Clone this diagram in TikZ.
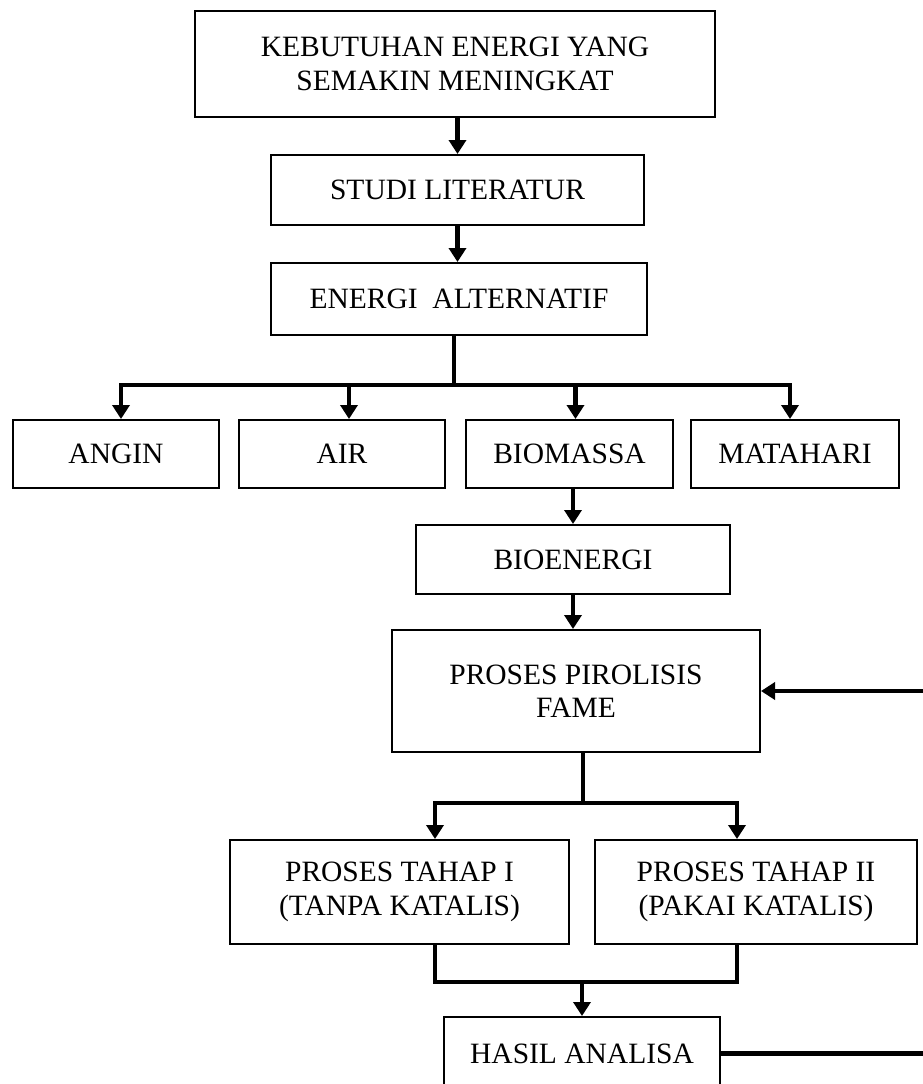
\documentclass[tikz,border=0pt]{standalone}
\usepackage{fontspec}
\setmainfont{Liberation Serif}
\usetikzlibrary{arrows.meta,calc}
\begin{document}
\begin{tikzpicture}[x=1pt,y=-1pt,
  box/.style={draw,line width=2pt,rectangle,inner sep=0pt,align=center,
    font=\fontsize{29.5}{33.5}\selectfont},
  conn/.style={line width=4.5pt},
  arr/.style={conn,-{Triangle[width=17pt,length=14pt]}}]
\useasboundingbox (0,0) rectangle (922,1084);
% boxes
\node[box,minimum width=520pt,minimum height=106pt] (top) at (455,64) {KEBUTUHAN ENERGI YANG\\SEMAKIN MENINGKAT};
\node[box,minimum width=373pt,minimum height=70pt] (studi) at (457.5,190) {STUDI LITERATUR};
\node[box,minimum width=376pt,minimum height=72pt] (energi) at (459,299) {ENERGI\ \ ALTERNATIF};
\node[box,minimum width=206pt,minimum height=68pt] (angin) at (116,454) {ANGIN};
\node[box,minimum width=206pt,minimum height=68pt] (air) at (342,454) {AIR};
\node[box,minimum width=207pt,minimum height=68pt] (biomassa) at (569.5,454) {BIOMASSA};
\node[box,minimum width=208pt,minimum height=68pt] (matahari) at (795,454) {MATAHARI};
\node[box,minimum width=314pt,minimum height=69pt] (bioenergi) at (573,559.5) {BIOENERGI};
\node[box,minimum width=368pt,minimum height=122pt] (pirolisis) at (576,691) {PROSES PIROLISIS\\FAME};
\node[box,minimum width=339pt,minimum height=104pt] (tahap1) at (399.5,892) {PROSES TAHAP I\\(TANPA KATALIS)};
\node[box,minimum width=322pt,minimum height=104pt] (tahap2) at (756,892) {PROSES TAHAP II\\(PAKAI KATALIS)};
\node[box,minimum width=276pt,minimum height=73pt] (hasil) at (582,1053.5) {HASIL ANALISA};
% connectors
\draw[arr] (studi.north |- top.south) -- (studi.north);
\draw[arr] (studi.south) -- (studi.south |- energi.north);
\draw[conn] ($(energi.south)+(-5,0)$) -- ++(0,49) coordinate (hub);
\draw[arr] (hub) -| ($(angin.north)+(5,0)$);
\draw[arr] (hub) -| ($(air.north)+(7,0)$);
\draw[arr] (hub) -| ($(biomassa.north)+(6,0)$);
\draw[arr] (hub) -| ($(matahari.north)+(-5,0)$);
\draw[arr] (bioenergi.north |- biomassa.south) -- (bioenergi.north);
\draw[arr] (bioenergi.south) -- (bioenergi.south |- pirolisis.north);
\draw[conn] ($(pirolisis.south)+(7,0)$) -- ++(0,50) coordinate (hub2);
\draw[arr] (hub2) -| ($(tahap1.north)+(35.5,0)$);
\draw[arr] (hub2) -| ($(tahap2.north)+(-19,0)$);
\draw[conn] ($(tahap1.south)+(35.5,0)$) -- ++(0,37) coordinate (j1) -| ($(tahap2.south)+(-19,0)$);
\draw[arr] (hasil.north |- j1) -- (hasil.north);
\draw[arr] (hasil.east) -- ++(230,0) |- (pirolisis.east);
\end{tikzpicture}
\end{document}
